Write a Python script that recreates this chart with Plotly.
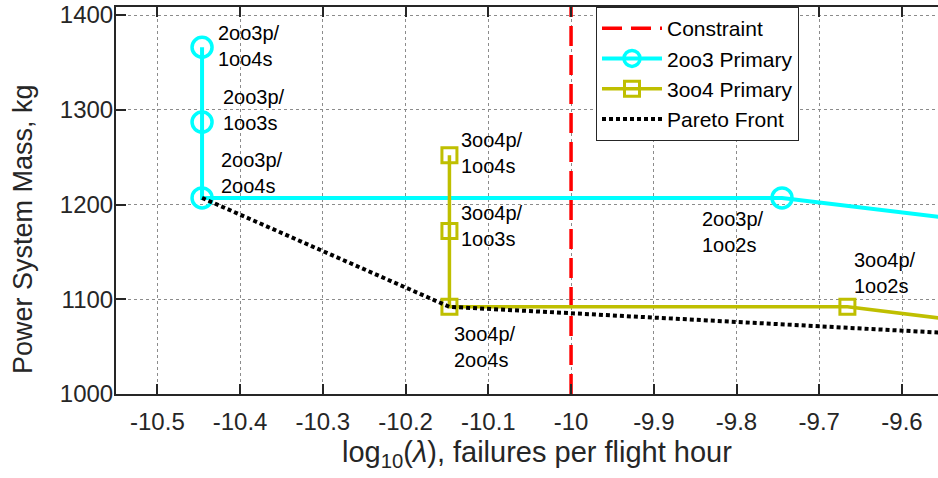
import plotly.graph_objects as go

# ---- data ----
x_2oo3 = [-10.446, -10.446, -10.446, -9.745, -9.45]
y_2oo3 = [1366, 1287, 1207, 1207, 1176]

x_3oo4 = [-10.147, -10.147, -10.147, -9.666, -9.45]
y_3oo4 = [1252, 1172, 1092, 1092, 1069]

x_pareto = [-10.446, -10.147, -9.45]
y_pareto = [1207, 1092, 1060]

constraint_x = -10.0
y_span = [1000, 1410]

label_texts = ["2oo3p/<br>1oo4s", "2oo3p/<br>1oo3s", "2oo3p/<br>2oo4s",
               "3oo4p/<br>1oo4s", "3oo4p/<br>1oo3s", "3oo4p/<br>2oo4s",
               "2oo3p/<br>1oo2s", "3oo4p/<br>1oo2s"]
label_x = [-10.4287, -10.4226, -10.4254, -10.136, -10.136, -10.1445, -9.8438, -9.6608]
label_y = [1367.8, 1300.2, 1233.6, 1254.8, 1177.7, 1049.3, 1170.8, 1128.0]

x_ticks = [-10.5, -10.4, -10.3, -10.2, -10.1, -10.0, -9.9, -9.8, -9.7, -9.6]
x_ticktext = ["-10.5", "-10.4", "-10.3", "-10.2", "-10.1", "-10", "-9.9", "-9.8", "-9.7", "-9.6"]
y_ticks = [1000, 1100, 1200, 1300, 1400]
y_ticktext = ["1000", "1100", "1200", "1300", "1400"]

x_range = [-10.55, -9.5565]
y_range = [1000, 1408.5]

AX = "#262626"
FONT = "Liberation Sans, Arial, sans-serif"

fig = go.Figure()

fig.add_trace(go.Scatter(
    x=[constraint_x, constraint_x], y=y_span, mode="lines", name="Constraint",
    line=dict(color="#FF0000", width=3.5, dash="20px,9px")))

fig.add_trace(go.Scatter(
    x=x_2oo3, y=y_2oo3, mode="lines+markers", name="2oo3 Primary",
    line=dict(color="#00FFFF", width=4),
    marker=dict(symbol="circle-open", size=20, color="#00FFFF", line=dict(width=3.5))))

fig.add_trace(go.Scatter(
    x=x_3oo4, y=y_3oo4, mode="lines+markers", name="3oo4 Primary",
    line=dict(color="#BFBF00", width=3.5),
    marker=dict(symbol="square-open", size=15, color="#BFBF00", line=dict(width=3))))

fig.add_trace(go.Scatter(
    x=x_pareto, y=y_pareto, mode="lines", name="Pareto Front",
    line=dict(color="#000000", width=4, dash="4px,3px")))

annotations = []
for t, lx, ly in zip(label_texts, label_x, label_y):
    annotations.append(dict(x=lx, y=ly, xref="x", yref="y", text=t, showarrow=False,
                            xanchor="left", yanchor="middle", align="left",
                            font=dict(family=FONT, size=20, color="#000000")))

annotations.append(dict(x=(23 - 116) / 822, y=(394 - 229) / 387, xref="paper", yref="paper",
                        text="Power System Mass, kg", textangle=-90, showarrow=False,
                        xanchor="center", yanchor="middle",
                        font=dict(family=FONT, size=27, color=AX)))
annotations.append(dict(x=(537 - 116) / 822, y=(394 - 454) / 387, xref="paper", yref="paper",
                        text="log<sub>10</sub>(<i>λ</i>), failures per flight hour", showarrow=False,
                        xanchor="center", yanchor="middle",
                        font=dict(family=FONT, size=29, color=AX)))

fig.update_layout(
    width=938, height=478,
    margin=dict(l=116, r=0, t=7, b=84, autoexpand=False),
    paper_bgcolor="white", plot_bgcolor="white",
    font=dict(family=FONT, color=AX),
    annotations=annotations,
    showlegend=True,
    legend=dict(x=(596 - 116) / 822, y=1, xanchor="left", yanchor="top",
                bgcolor="white", bordercolor=AX, borderwidth=1,
                font=dict(family=FONT, size=21, color="#000000"),
                itemwidth=60),
)

fig.update_xaxes(
    range=x_range, tickmode="array", tickvals=x_ticks, ticktext=x_ticktext,
    showline=True, linecolor=AX, linewidth=2, mirror="ticks",
    ticks="inside", ticklen=10, tickwidth=2, tickcolor=AX,
    showgrid=True, gridcolor="#8c8c8c", griddash="dot", gridwidth=1,
    tickfont=dict(family=FONT, size=24, color=AX), zeroline=False,
    ticklabelstandoff=5, automargin=False)

fig.update_yaxes(
    range=y_range, tickmode="array", tickvals=y_ticks, ticktext=y_ticktext,
    showline=True, linecolor=AX, linewidth=2, mirror=False,
    ticks="inside", ticklen=10, tickwidth=2, tickcolor=AX,
    showgrid=True, gridcolor="#8c8c8c", griddash="dot", gridwidth=1,
    tickfont=dict(family=FONT, size=24, color=AX), zeroline=False,
    ticklabelstandoff=-4, automargin=False)

fig.write_html("out.html", config={"displayModeBar": False},
               post_script="document.body.style.margin='0px';")
